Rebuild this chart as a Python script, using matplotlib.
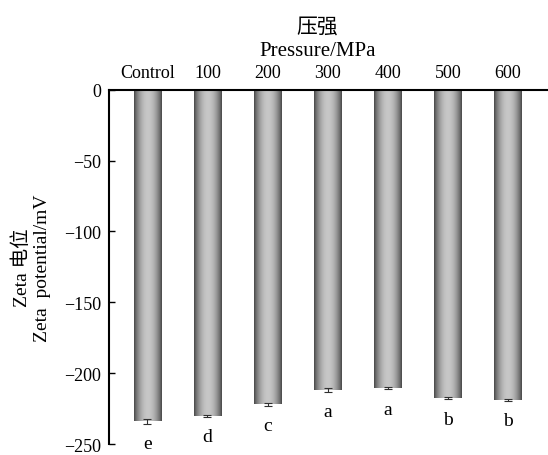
import numpy as np
import matplotlib.pyplot as plt

plt.rcParams['font.family'] = ['Liberation Serif', 'Noto Sans CJK SC']
plt.rcParams['axes.unicode_minus'] = True

groups = ['Control', '100', '200', '300', '400', '500', '600']
zeta = [-234.0, -230.3, -221.8, -211.7, -210.5, -217.8, -219.0]
err = [1.5, 0.5, 1.0, 1.3, 1.0, 0.7, 0.7]
letters = ['e', 'd', 'c', 'a', 'a', 'b', 'b']

fig = plt.figure(figsize=(5.48, 4.56), dpi=100)
ax = fig.add_axes([0.1995, 0.024, 0.8, 0.777])

x = np.arange(len(groups))
bars = ax.bar(x, zeta, width=0.46, color='#909090', edgecolor='none', zorder=1)

# cylinder-style shading: dark edges, light middle
t = np.linspace(0, 1, 64)
shade = 0.28 + 0.50 * np.sin(np.pi * t) ** 0.8
grad = np.tile(shade, (2, 1))
for b in bars:
    x0, w = b.get_x(), b.get_width()
    y0 = b.get_y() + b.get_height()
    im = ax.imshow(grad, cmap='gray', vmin=0, vmax=1, aspect='auto',
                   extent=[x0, x0 + w, y0, 0], zorder=2, interpolation='bilinear')
    im.set_clip_path(b)

ax.errorbar(x, zeta, yerr=err, fmt='none', ecolor='#303030', elinewidth=0.8,
            capsize=3, capthick=0.8, zorder=3)

for xi, v, e, s in zip(x, zeta, err, letters):
    ax.text(xi, v - e - 17.0, s, ha='center', va='baseline', fontsize=14,
            clip_on=False)

ax.set_xlim(-0.633, 6.66)
ax.set_ylim(-250, 0)
ax.set_yticks([0, -50, -100, -150, -200, -250])
ax.set_xticks(x)
ax.set_xticklabels(groups)

ax.xaxis.tick_top()
ax.xaxis.set_label_position('top')
ax.set_xlabel('压强\nPressure/MPa', fontsize=15, linespacing=1.3)
ax.xaxis.set_label_coords(0.474, 1.099)
ax.set_ylabel('Zeta 电位\nZeta  potential/mV', fontsize=14, linespacing=1.2)
ax.yaxis.set_label_coords(-0.133, 0.5)

ax.tick_params(axis='x', direction='in', length=4, width=1, pad=6, labelsize=13)
ax.tick_params(axis='y', direction='in', length=4, width=1, pad=6, labelsize=13)

for side in ['right', 'bottom']:
    ax.spines[side].set_visible(False)
ax.spines['left'].set_linewidth(1.5)
ax.spines['top'].set_linewidth(1.5)

fig.savefig('out.png', dpi=100)
